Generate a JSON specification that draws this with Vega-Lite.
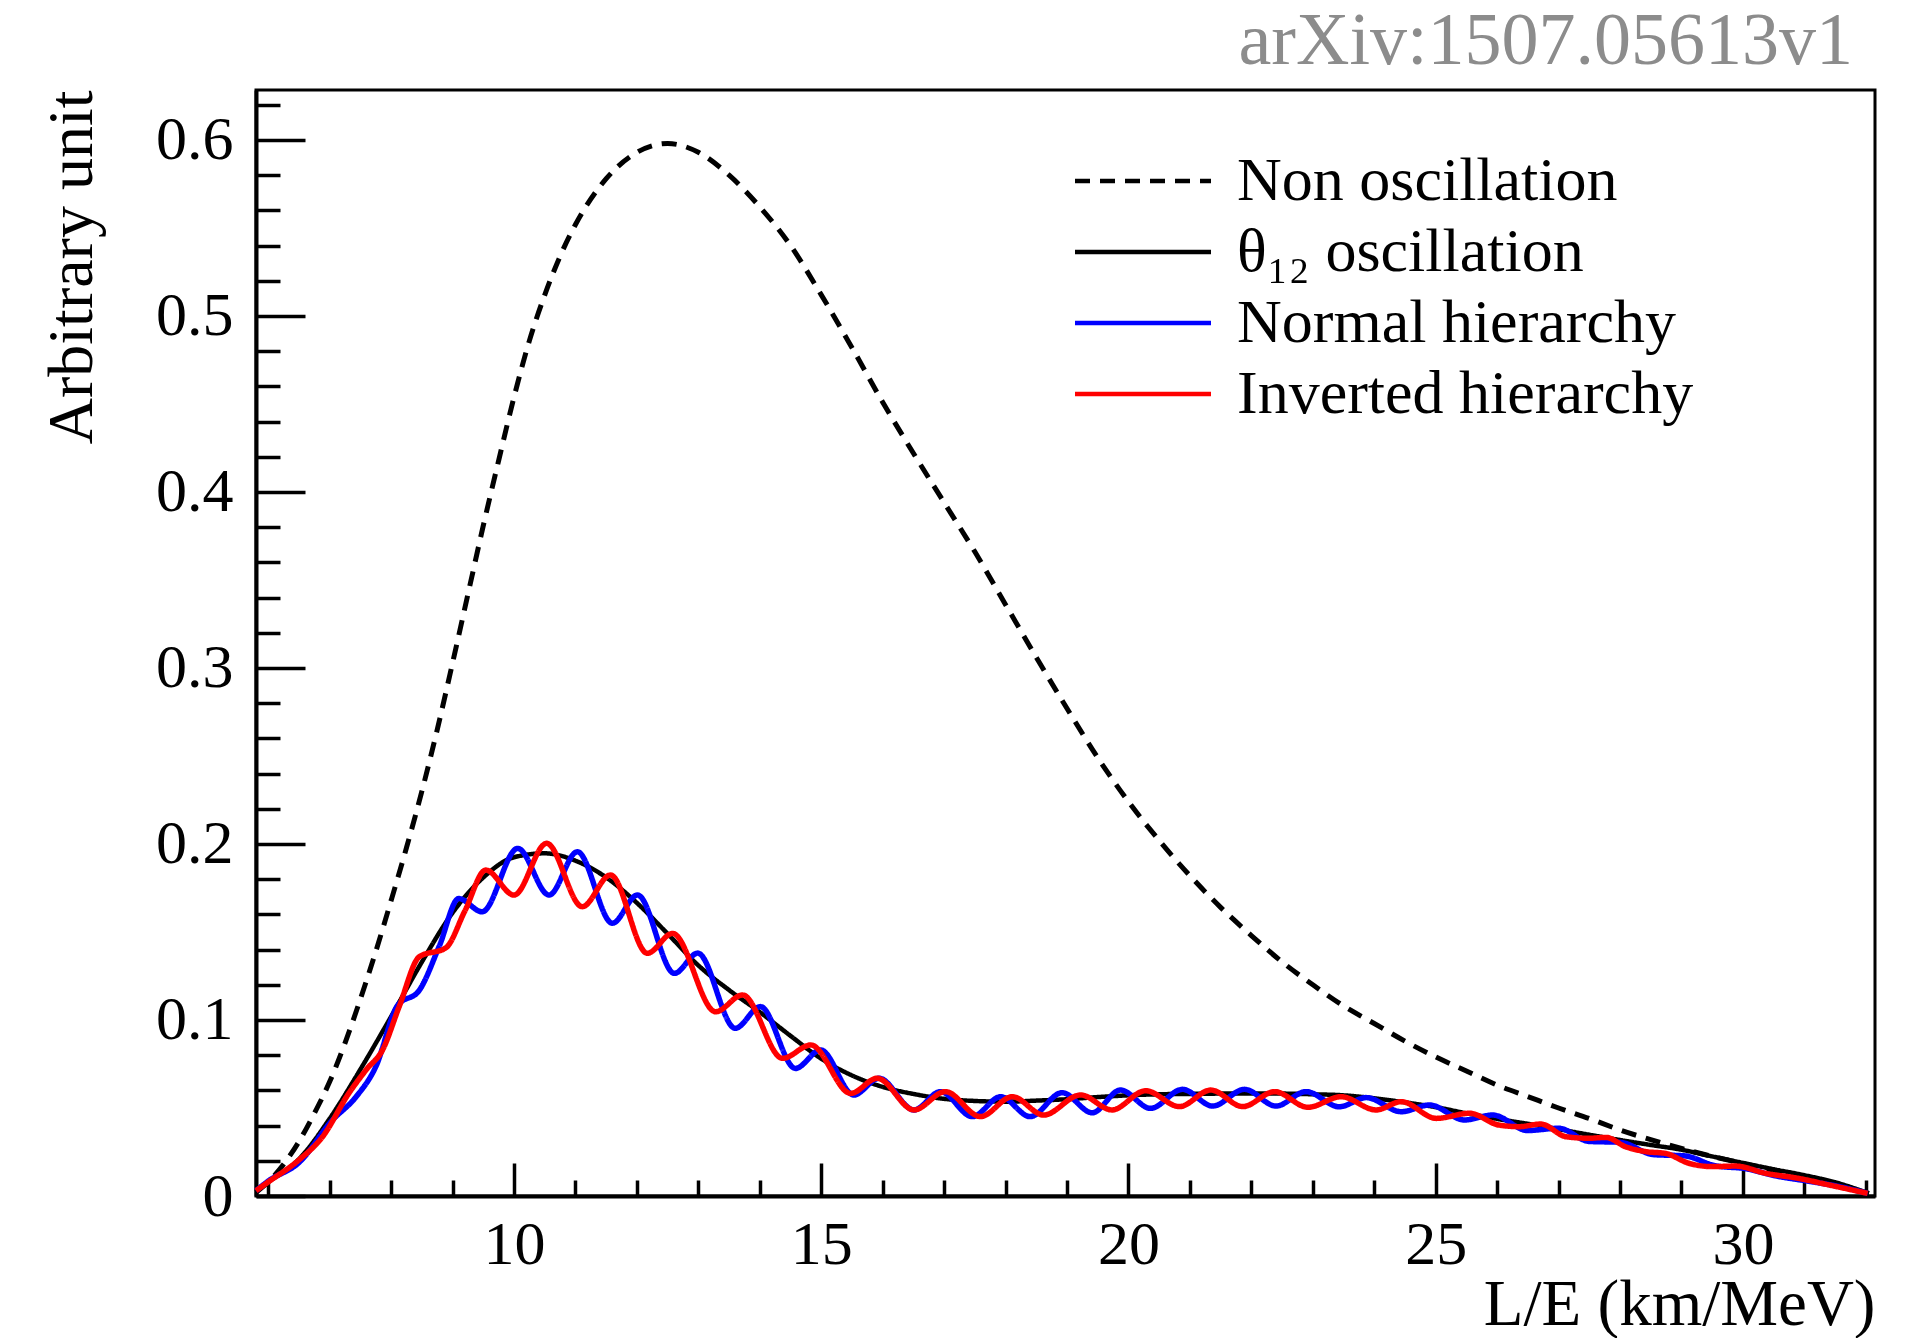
{
  "$schema": "https://vega.github.io/schema/vega-lite/v6.json",
  "width": 1619,
  "height": 1106,
  "autosize": {"type": "none"},
  "padding": {"left": 256, "top": 90, "right": 47, "bottom": 142},
  "background": "white",
  "title": {"text": "arXiv:1507.05613v1", "anchor": "end", "frame": "group", "font": "Liberation Serif", "fontSize": 74, "fontWeight": "normal", "color": "#8c8c8c", "baseline": "alphabetic", "offset": 20, "dx": -22, "dy": 84},
  "config": {"view": {"stroke": "black", "strokeWidth": 3}, "font": "Liberation Serif"},
  "datasets": {
    "curves": [
      {"s": "Non oscillation", "x": 5.8, "y": 0.002},
      {"s": "Non oscillation", "x": 6.0, "y": 0.008},
      {"s": "Non oscillation", "x": 6.25, "y": 0.018},
      {"s": "Non oscillation", "x": 6.5, "y": 0.031},
      {"s": "Non oscillation", "x": 6.75, "y": 0.047},
      {"s": "Non oscillation", "x": 7.0, "y": 0.065},
      {"s": "Non oscillation", "x": 7.25, "y": 0.087},
      {"s": "Non oscillation", "x": 7.5, "y": 0.112},
      {"s": "Non oscillation", "x": 7.75, "y": 0.139},
      {"s": "Non oscillation", "x": 8.0, "y": 0.168},
      {"s": "Non oscillation", "x": 8.25, "y": 0.198},
      {"s": "Non oscillation", "x": 8.5, "y": 0.23},
      {"s": "Non oscillation", "x": 8.75, "y": 0.265},
      {"s": "Non oscillation", "x": 9.0, "y": 0.303},
      {"s": "Non oscillation", "x": 9.25, "y": 0.342},
      {"s": "Non oscillation", "x": 9.5, "y": 0.381},
      {"s": "Non oscillation", "x": 9.75, "y": 0.418},
      {"s": "Non oscillation", "x": 10.0, "y": 0.454},
      {"s": "Non oscillation", "x": 10.25, "y": 0.486},
      {"s": "Non oscillation", "x": 10.5, "y": 0.512},
      {"s": "Non oscillation", "x": 10.75, "y": 0.534},
      {"s": "Non oscillation", "x": 11.0, "y": 0.552},
      {"s": "Non oscillation", "x": 11.5, "y": 0.578},
      {"s": "Non oscillation", "x": 12.0, "y": 0.593},
      {"s": "Non oscillation", "x": 12.5, "y": 0.598},
      {"s": "Non oscillation", "x": 13.0, "y": 0.593},
      {"s": "Non oscillation", "x": 13.5, "y": 0.58},
      {"s": "Non oscillation", "x": 14.0, "y": 0.562},
      {"s": "Non oscillation", "x": 14.5, "y": 0.54},
      {"s": "Non oscillation", "x": 15.0, "y": 0.512},
      {"s": "Non oscillation", "x": 15.5, "y": 0.482},
      {"s": "Non oscillation", "x": 16.0, "y": 0.451},
      {"s": "Non oscillation", "x": 16.5, "y": 0.422},
      {"s": "Non oscillation", "x": 17.0, "y": 0.394},
      {"s": "Non oscillation", "x": 17.5, "y": 0.366},
      {"s": "Non oscillation", "x": 18.0, "y": 0.336},
      {"s": "Non oscillation", "x": 18.5, "y": 0.306},
      {"s": "Non oscillation", "x": 19.0, "y": 0.277},
      {"s": "Non oscillation", "x": 19.5, "y": 0.249},
      {"s": "Non oscillation", "x": 20.0, "y": 0.224},
      {"s": "Non oscillation", "x": 20.5, "y": 0.202},
      {"s": "Non oscillation", "x": 21.0, "y": 0.182},
      {"s": "Non oscillation", "x": 21.5, "y": 0.164},
      {"s": "Non oscillation", "x": 22.0, "y": 0.148},
      {"s": "Non oscillation", "x": 22.5, "y": 0.133},
      {"s": "Non oscillation", "x": 23.0, "y": 0.12},
      {"s": "Non oscillation", "x": 23.5, "y": 0.108},
      {"s": "Non oscillation", "x": 24.0, "y": 0.098},
      {"s": "Non oscillation", "x": 24.5, "y": 0.088},
      {"s": "Non oscillation", "x": 25.0, "y": 0.079},
      {"s": "Non oscillation", "x": 25.5, "y": 0.071},
      {"s": "Non oscillation", "x": 26.0, "y": 0.063},
      {"s": "Non oscillation", "x": 26.5, "y": 0.0565},
      {"s": "Non oscillation", "x": 27.0, "y": 0.05},
      {"s": "Non oscillation", "x": 27.5, "y": 0.044},
      {"s": "Non oscillation", "x": 28.0, "y": 0.0375},
      {"s": "Non oscillation", "x": 28.5, "y": 0.032},
      {"s": "Non oscillation", "x": 29.0, "y": 0.027},
      {"s": "Non oscillation", "x": 29.5, "y": 0.0225},
      {"s": "Non oscillation", "x": 30.0, "y": 0.0185},
      {"s": "Non oscillation", "x": 30.5, "y": 0.0145},
      {"s": "Non oscillation", "x": 31.0, "y": 0.0105},
      {"s": "Non oscillation", "x": 31.5, "y": 0.0065},
      {"s": "Non oscillation", "x": 32.05, "y": 0.0015},

      {"s": "θ₁₂ oscillation", "x": 5.8, "y": 0.003},
      {"s": "θ₁₂ oscillation", "x": 6.0, "y": 0.008},
      {"s": "θ₁₂ oscillation", "x": 6.5, "y": 0.021},
      {"s": "θ₁₂ oscillation", "x": 7.0, "y": 0.044},
      {"s": "θ₁₂ oscillation", "x": 7.5, "y": 0.072},
      {"s": "θ₁₂ oscillation", "x": 8.0, "y": 0.102},
      {"s": "θ₁₂ oscillation", "x": 8.5, "y": 0.133},
      {"s": "θ₁₂ oscillation", "x": 9.0, "y": 0.161},
      {"s": "θ₁₂ oscillation", "x": 9.5, "y": 0.181},
      {"s": "θ₁₂ oscillation", "x": 10.0, "y": 0.1925},
      {"s": "θ₁₂ oscillation", "x": 10.5, "y": 0.1947},
      {"s": "θ₁₂ oscillation", "x": 11.0, "y": 0.1905},
      {"s": "θ₁₂ oscillation", "x": 11.5, "y": 0.181},
      {"s": "θ₁₂ oscillation", "x": 12.0, "y": 0.1665},
      {"s": "θ₁₂ oscillation", "x": 12.5, "y": 0.149},
      {"s": "θ₁₂ oscillation", "x": 13.0, "y": 0.131},
      {"s": "θ₁₂ oscillation", "x": 13.5, "y": 0.117},
      {"s": "θ₁₂ oscillation", "x": 14.0, "y": 0.1045},
      {"s": "θ₁₂ oscillation", "x": 14.5, "y": 0.091},
      {"s": "θ₁₂ oscillation", "x": 15.0, "y": 0.078},
      {"s": "θ₁₂ oscillation", "x": 15.5, "y": 0.0685},
      {"s": "θ₁₂ oscillation", "x": 16.0, "y": 0.062},
      {"s": "θ₁₂ oscillation", "x": 16.5, "y": 0.058},
      {"s": "θ₁₂ oscillation", "x": 17.0, "y": 0.0552},
      {"s": "θ₁₂ oscillation", "x": 17.5, "y": 0.054},
      {"s": "θ₁₂ oscillation", "x": 18.0, "y": 0.0536},
      {"s": "θ₁₂ oscillation", "x": 18.5, "y": 0.0542},
      {"s": "θ₁₂ oscillation", "x": 19.0, "y": 0.055},
      {"s": "θ₁₂ oscillation", "x": 19.5, "y": 0.0562},
      {"s": "θ₁₂ oscillation", "x": 20.0, "y": 0.0572},
      {"s": "θ₁₂ oscillation", "x": 20.5, "y": 0.0578},
      {"s": "θ₁₂ oscillation", "x": 21.0, "y": 0.058},
      {"s": "θ₁₂ oscillation", "x": 21.5, "y": 0.0582},
      {"s": "θ₁₂ oscillation", "x": 22.0, "y": 0.0583},
      {"s": "θ₁₂ oscillation", "x": 22.5, "y": 0.0582},
      {"s": "θ₁₂ oscillation", "x": 23.0, "y": 0.0578},
      {"s": "θ₁₂ oscillation", "x": 23.5, "y": 0.0572},
      {"s": "θ₁₂ oscillation", "x": 24.0, "y": 0.0555},
      {"s": "θ₁₂ oscillation", "x": 24.5, "y": 0.0532},
      {"s": "θ₁₂ oscillation", "x": 25.0, "y": 0.0505},
      {"s": "θ₁₂ oscillation", "x": 25.5, "y": 0.047},
      {"s": "θ₁₂ oscillation", "x": 26.0, "y": 0.0438},
      {"s": "θ₁₂ oscillation", "x": 26.5, "y": 0.041},
      {"s": "θ₁₂ oscillation", "x": 27.0, "y": 0.038},
      {"s": "θ₁₂ oscillation", "x": 27.5, "y": 0.0348},
      {"s": "θ₁₂ oscillation", "x": 28.0, "y": 0.0318},
      {"s": "θ₁₂ oscillation", "x": 28.5, "y": 0.029},
      {"s": "θ₁₂ oscillation", "x": 29.0, "y": 0.0263},
      {"s": "θ₁₂ oscillation", "x": 29.5, "y": 0.0225},
      {"s": "θ₁₂ oscillation", "x": 30.0, "y": 0.0188},
      {"s": "θ₁₂ oscillation", "x": 30.5, "y": 0.0152},
      {"s": "θ₁₂ oscillation", "x": 31.0, "y": 0.0118},
      {"s": "θ₁₂ oscillation", "x": 31.5, "y": 0.0078},
      {"s": "θ₁₂ oscillation", "x": 32.05, "y": 0.0015},

      {"s": "Normal hierarchy", "x": 5.8, "y": 0.003},
      {"s": "Normal hierarchy", "x": 6.0, "y": 0.0085},
      {"s": "Normal hierarchy", "x": 6.5, "y": 0.019},
      {"s": "Normal hierarchy", "x": 7.04, "y": 0.043},
      {"s": "Normal hierarchy", "x": 7.42, "y": 0.056},
      {"s": "Normal hierarchy", "x": 7.75, "y": 0.0735},
      {"s": "Normal hierarchy", "x": 8.1, "y": 0.108},
      {"s": "Normal hierarchy", "x": 8.46, "y": 0.117},
      {"s": "Normal hierarchy", "x": 8.78, "y": 0.1417},
      {"s": "Normal hierarchy", "x": 9.1, "y": 0.169},
      {"s": "Normal hierarchy", "x": 9.48, "y": 0.1615},
      {"s": "Normal hierarchy", "x": 10.06, "y": 0.1975},
      {"s": "Normal hierarchy", "x": 10.57, "y": 0.171},
      {"s": "Normal hierarchy", "x": 11.03, "y": 0.1956},
      {"s": "Normal hierarchy", "x": 11.6, "y": 0.155},
      {"s": "Normal hierarchy", "x": 12.01, "y": 0.171},
      {"s": "Normal hierarchy", "x": 12.61, "y": 0.1265},
      {"s": "Normal hierarchy", "x": 12.99, "y": 0.138},
      {"s": "Normal hierarchy", "x": 13.6, "y": 0.0953},
      {"s": "Normal hierarchy", "x": 14.01, "y": 0.1076},
      {"s": "Normal hierarchy", "x": 14.58, "y": 0.0725},
      {"s": "Normal hierarchy", "x": 14.99, "y": 0.083},
      {"s": "Normal hierarchy", "x": 15.53, "y": 0.0574},
      {"s": "Normal hierarchy", "x": 15.94, "y": 0.0669},
      {"s": "Normal hierarchy", "x": 16.51, "y": 0.0489},
      {"s": "Normal hierarchy", "x": 16.94, "y": 0.0593},
      {"s": "Normal hierarchy", "x": 17.46, "y": 0.0451},
      {"s": "Normal hierarchy", "x": 17.92, "y": 0.0564},
      {"s": "Normal hierarchy", "x": 18.4, "y": 0.0451},
      {"s": "Normal hierarchy", "x": 18.92, "y": 0.0587},
      {"s": "Normal hierarchy", "x": 19.41, "y": 0.0473},
      {"s": "Normal hierarchy", "x": 19.87, "y": 0.0602},
      {"s": "Normal hierarchy", "x": 20.36, "y": 0.0498},
      {"s": "Normal hierarchy", "x": 20.88, "y": 0.0606},
      {"s": "Normal hierarchy", "x": 21.37, "y": 0.0511},
      {"s": "Normal hierarchy", "x": 21.89, "y": 0.0606},
      {"s": "Normal hierarchy", "x": 22.4, "y": 0.0511},
      {"s": "Normal hierarchy", "x": 22.89, "y": 0.0593},
      {"s": "Normal hierarchy", "x": 23.43, "y": 0.0507},
      {"s": "Normal hierarchy", "x": 23.87, "y": 0.0559},
      {"s": "Normal hierarchy", "x": 24.44, "y": 0.0479},
      {"s": "Normal hierarchy", "x": 24.9, "y": 0.0517},
      {"s": "Normal hierarchy", "x": 25.47, "y": 0.0432},
      {"s": "Normal hierarchy", "x": 25.93, "y": 0.046},
      {"s": "Normal hierarchy", "x": 26.5, "y": 0.0372},
      {"s": "Normal hierarchy", "x": 27.0, "y": 0.0385},
      {"s": "Normal hierarchy", "x": 27.5, "y": 0.031},
      {"s": "Normal hierarchy", "x": 28.0, "y": 0.0305},
      {"s": "Normal hierarchy", "x": 28.55, "y": 0.0235},
      {"s": "Normal hierarchy", "x": 29.05, "y": 0.0228},
      {"s": "Normal hierarchy", "x": 29.55, "y": 0.0172},
      {"s": "Normal hierarchy", "x": 30.05, "y": 0.0155},
      {"s": "Normal hierarchy", "x": 30.55, "y": 0.0113},
      {"s": "Normal hierarchy", "x": 31.05, "y": 0.0085},
      {"s": "Normal hierarchy", "x": 31.55, "y": 0.0055},
      {"s": "Normal hierarchy", "x": 32.03, "y": 0.0015},

      {"s": "Inverted hierarchy", "x": 5.8, "y": 0.003},
      {"s": "Inverted hierarchy", "x": 6.0, "y": 0.008},
      {"s": "Inverted hierarchy", "x": 6.5, "y": 0.0205},
      {"s": "Inverted hierarchy", "x": 6.88, "y": 0.0335},
      {"s": "Inverted hierarchy", "x": 7.31, "y": 0.0583},
      {"s": "Inverted hierarchy", "x": 7.6, "y": 0.072},
      {"s": "Inverted hierarchy", "x": 7.86, "y": 0.083},
      {"s": "Inverted hierarchy", "x": 8.13, "y": 0.1076},
      {"s": "Inverted hierarchy", "x": 8.46, "y": 0.136},
      {"s": "Inverted hierarchy", "x": 8.89, "y": 0.141},
      {"s": "Inverted hierarchy", "x": 9.2, "y": 0.162},
      {"s": "Inverted hierarchy", "x": 9.54, "y": 0.1852},
      {"s": "Inverted hierarchy", "x": 10.0, "y": 0.171},
      {"s": "Inverted hierarchy", "x": 10.53, "y": 0.2004},
      {"s": "Inverted hierarchy", "x": 11.11, "y": 0.1644},
      {"s": "Inverted hierarchy", "x": 11.57, "y": 0.1824},
      {"s": "Inverted hierarchy", "x": 12.17, "y": 0.1379},
      {"s": "Inverted hierarchy", "x": 12.58, "y": 0.1492},
      {"s": "Inverted hierarchy", "x": 13.28, "y": 0.1047},
      {"s": "Inverted hierarchy", "x": 13.72, "y": 0.1142},
      {"s": "Inverted hierarchy", "x": 14.37, "y": 0.0782},
      {"s": "Inverted hierarchy", "x": 14.83, "y": 0.0858},
      {"s": "Inverted hierarchy", "x": 15.48, "y": 0.0583},
      {"s": "Inverted hierarchy", "x": 15.91, "y": 0.0669},
      {"s": "Inverted hierarchy", "x": 16.51, "y": 0.0489},
      {"s": "Inverted hierarchy", "x": 17.02, "y": 0.0593},
      {"s": "Inverted hierarchy", "x": 17.59, "y": 0.0451},
      {"s": "Inverted hierarchy", "x": 18.11, "y": 0.0564},
      {"s": "Inverted hierarchy", "x": 18.62, "y": 0.046},
      {"s": "Inverted hierarchy", "x": 19.22, "y": 0.0574},
      {"s": "Inverted hierarchy", "x": 19.73, "y": 0.0489},
      {"s": "Inverted hierarchy", "x": 20.28, "y": 0.0598},
      {"s": "Inverted hierarchy", "x": 20.83, "y": 0.0508},
      {"s": "Inverted hierarchy", "x": 21.34, "y": 0.0602},
      {"s": "Inverted hierarchy", "x": 21.86, "y": 0.0508},
      {"s": "Inverted hierarchy", "x": 22.38, "y": 0.0593},
      {"s": "Inverted hierarchy", "x": 22.92, "y": 0.0504},
      {"s": "Inverted hierarchy", "x": 23.46, "y": 0.0564},
      {"s": "Inverted hierarchy", "x": 24.03, "y": 0.0489},
      {"s": "Inverted hierarchy", "x": 24.44, "y": 0.0536},
      {"s": "Inverted hierarchy", "x": 25.01, "y": 0.0441},
      {"s": "Inverted hierarchy", "x": 25.55, "y": 0.047},
      {"s": "Inverted hierarchy", "x": 26.03, "y": 0.0403},
      {"s": "Inverted hierarchy", "x": 26.36, "y": 0.0394},
      {"s": "Inverted hierarchy", "x": 26.71, "y": 0.0409},
      {"s": "Inverted hierarchy", "x": 27.12, "y": 0.0337},
      {"s": "Inverted hierarchy", "x": 27.49, "y": 0.0328},
      {"s": "Inverted hierarchy", "x": 27.77, "y": 0.0333},
      {"s": "Inverted hierarchy", "x": 28.09, "y": 0.028},
      {"s": "Inverted hierarchy", "x": 28.42, "y": 0.0252},
      {"s": "Inverted hierarchy", "x": 28.74, "y": 0.0242},
      {"s": "Inverted hierarchy", "x": 29.12, "y": 0.0186},
      {"s": "Inverted hierarchy", "x": 29.5, "y": 0.0167},
      {"s": "Inverted hierarchy", "x": 29.88, "y": 0.017},
      {"s": "Inverted hierarchy", "x": 30.37, "y": 0.0129},
      {"s": "Inverted hierarchy", "x": 30.91, "y": 0.01},
      {"s": "Inverted hierarchy", "x": 31.4, "y": 0.0063},
      {"s": "Inverted hierarchy", "x": 32.03, "y": 0.0015}
    ]
  },
  "data": {"name": "curves"},
  "encoding": {
    "x": {
      "field": "x", "type": "quantitative",
      "scale": {"domain": [5.8, 32.15], "nice": false, "zero": false},
      "axis": {
        "values": [6,7,8,9,10,11,12,13,14,15,16,17,18,19,20,21,22,23,24,25,26,27,28,29,30,31,32],
        "tickSize": {"condition": {"test": "datum.value % 5 === 0", "value": -33}, "value": -16},
        "tickWidth": 3.5, "tickColor": "black",
        "labelExpr": "datum.value % 5 === 0 ? datum.label : ''",
        "labelFont": "Liberation Serif", "labelFontSize": 62, "labelColor": "black",
        "labelPadding": 51, "labelFlush": false, "labelOverlap": false, "labelBound": false,
        "domainColor": "black", "domainWidth": 4, "grid": false,
        "title": "L/E (km/MeV)", "titleAnchor": "end", "titleFont": "Liberation Serif",
        "titleFontSize": 65, "titleFontWeight": "normal", "titleColor": "black", "titlePadding": -19
      }
    },
    "y": {
      "field": "y", "type": "quantitative",
      "scale": {"domain": [0, 0.6284], "nice": false},
      "axis": {
        "values": [0,0.02,0.04,0.06,0.08,0.1,0.12,0.14,0.16,0.18,0.2,0.22,0.24,0.26,0.28,0.3,0.32,0.34,0.36,0.38,0.4,0.42,0.44,0.46,0.48,0.5,0.52,0.54,0.56,0.58,0.6,0.62],
        "format": ".1~f",
        "tickSize": {"condition": {"test": "abs(datum.value*10 - round(datum.value*10)) < 0.001", "value": -49}, "value": -24},
        "tickWidth": 3.5, "tickColor": "black",
        "labelExpr": "abs(datum.value*10 - round(datum.value*10)) < 0.001 ? datum.label : ''",
        "labelFont": "Liberation Serif", "labelFontSize": 62, "labelColor": "black",
        "labelPadding": 72, "labelFlush": false, "labelOverlap": false, "labelBound": false,
        "domainColor": "black", "domainWidth": 4, "grid": false,
        "title": "Arbitrary unit", "titleAnchor": "end", "titleFont": "Liberation Serif",
        "titleFontSize": 64, "titleFontWeight": "normal", "titleColor": "black", "titlePadding": 51
      }
    },
    "color": {
      "field": "s", "type": "nominal",
      "scale": {"domain": ["Non oscillation", "θ₁₂ oscillation", "Normal hierarchy", "Inverted hierarchy"], "range": ["#000000", "#000000", "#0000ff", "#ff0000"]},
      "legend": {"orient": "none", "legendX": 856, "legendY": 60, "title": null, "labelFont": "Liberation Serif", "labelFontSize": 62, "labelColor": "black", "labelLimit": 1000, "symbolType": "M-4,0H4", "symbolSize": 1156, "symbolStrokeWidth": 4.5, "labelOffset": 63, "rowPadding": 9, "padding": 0, "labelBaseline": "middle"}
    },
    "strokeDash": {
      "field": "s", "type": "nominal",
      "scale": {"domain": ["Non oscillation", "θ₁₂ oscillation", "Normal hierarchy", "Inverted hierarchy"], "range": [[15, 10], [1, 0], [1, 0], [1, 0]]},
      "legend": {"orient": "none", "legendX": 856, "legendY": 60, "title": null, "labelFont": "Liberation Serif", "labelFontSize": 62, "labelColor": "black", "labelLimit": 1000, "symbolType": "M-4,0H4", "symbolSize": 1156, "symbolStrokeWidth": 4.5, "labelOffset": 63, "rowPadding": 9, "padding": 0, "labelBaseline": "middle"}
    }
  },
  "layer": [
    {"transform": [{"filter": {"field": "s", "equal": "Non oscillation"}}], "mark": {"type": "line", "interpolate": "monotone", "strokeWidth": 5}},
    {"transform": [{"filter": {"field": "s", "equal": "θ₁₂ oscillation"}}], "mark": {"type": "line", "interpolate": "monotone", "strokeWidth": 4.5}},
    {"transform": [{"filter": {"field": "s", "equal": "Normal hierarchy"}}], "mark": {"type": "line", "interpolate": "monotone", "strokeWidth": 5.5}},
    {"transform": [{"filter": {"field": "s", "equal": "Inverted hierarchy"}}], "mark": {"type": "line", "interpolate": "monotone", "strokeWidth": 5.5}}
  ]
}
